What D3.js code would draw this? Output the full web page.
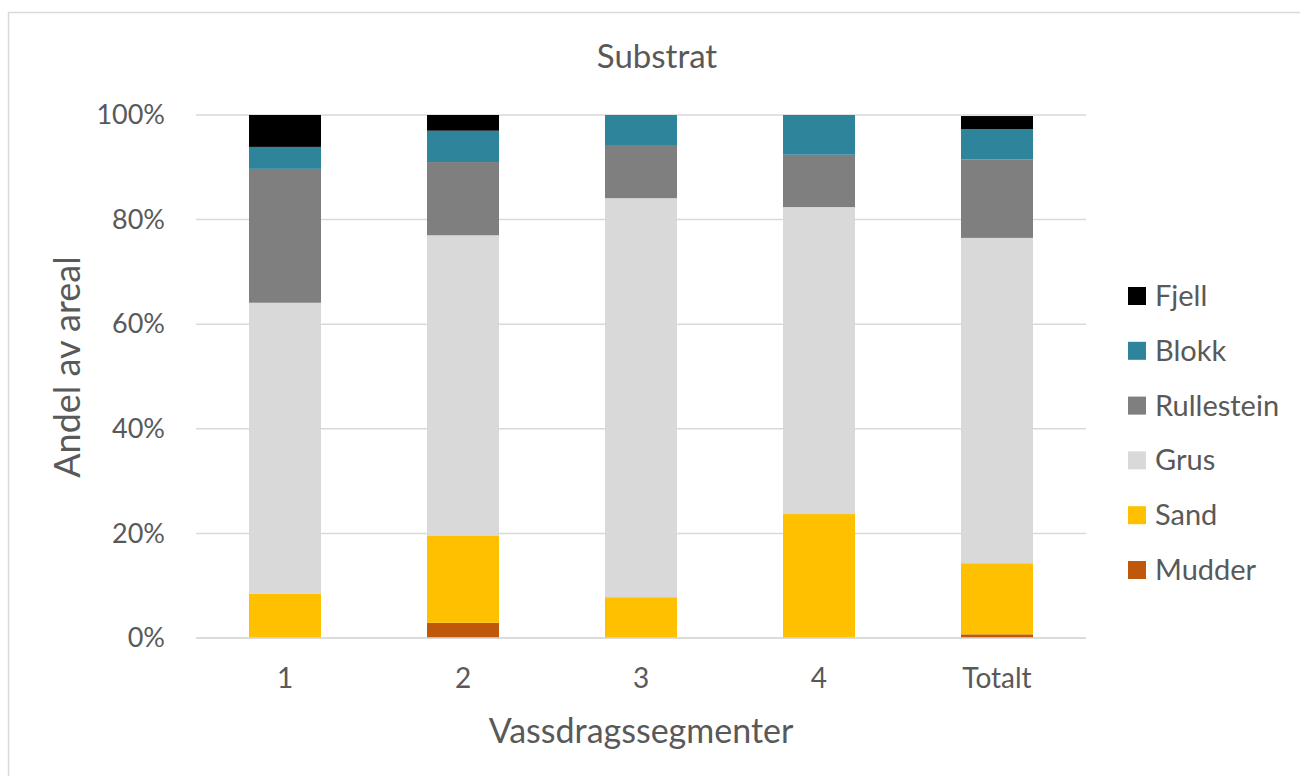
<!DOCTYPE html>
<html>
<head>
<meta charset="utf-8">
<script src="https://cdn.jsdelivr.net/npm/d3@7/dist/d3.min.js"></script>
<style>
  html, body { margin: 0; padding: 0; background: #fff; }
  svg text { font-family: Lato, "Open Sans", sans-serif; }
</style>
</head>
<body>
<svg id="chart" width="1300" height="776"></svg>
<script>
// ---- data ----
const categories = ["1", "2", "3", "4", "Totalt"];
const seriesNames = ["Mudder", "Sand", "Grus", "Rullestein", "Blokk", "Fjell"];
const mudder     = [0.0, 2.9, 0.0, 0.0, 0.7];
const sand       = [8.5, 16.6, 7.8, 23.7, 13.6];
const grus       = [55.6, 57.5, 76.3, 58.7, 62.2];
const rullestein = [25.6, 14.0, 10.0, 10.0, 15.0];
const blokk      = [4.2, 6.0, 5.9, 7.6, 5.8];
const fjell      = [6.1, 3.0, 0.0, 0.0, 2.5];
const yTicks = [0, 20, 40, 60, 80, 100];
const colors = ["#C0580C", "#FFC000", "#D9D9D9", "#7F7F7F", "#2E849B", "#000000"];
const legendOrder = ["Fjell", "Blokk", "Rullestein", "Grus", "Sand", "Mudder"];

const valuesBySeries = { Mudder: mudder, Sand: sand, Grus: grus, Rullestein: rullestein, Blokk: blokk, Fjell: fjell };
const table = categories.map((c, i) => {
  const row = { cat: c };
  seriesNames.forEach(s => row[s] = valuesBySeries[s][i]);
  return row;
});

const svg = d3.select("#chart");
const plot = { left: 196, right: 1086, top: 115, bottom: 638 };

// chart border
svg.append("rect")
  .attr("x", 8.5).attr("y", 12.5)
  .attr("width", 1300).attr("height", 780)
  .attr("fill", "#fff").attr("stroke", "#D9D9D9").attr("stroke-width", 1.5);

const x = d3.scaleBand().domain(categories).range([plot.left, plot.right])
  .paddingInner(0.5955).paddingOuter(0.2978);
const y = d3.scaleLinear().domain([0, 100]).range([plot.bottom, plot.top]);
const color = d3.scaleOrdinal().domain(seriesNames).range(colors);

// gridlines
svg.append("g").selectAll("line").data(yTicks).join("line")
  .attr("x1", plot.left).attr("x2", plot.right)
  .attr("y1", d => y(d)).attr("y2", d => y(d))
  .attr("stroke", "#D9D9D9").attr("stroke-width", 1.5);

// stacked bars
const stack = d3.stack().keys(seriesNames)(table);
svg.append("g").selectAll("g").data(stack).join("g")
  .attr("fill", d => color(d.key))
  .selectAll("rect").data(d => d).join("rect")
  .attr("x", d => x(d.data.cat))
  .attr("width", x.bandwidth())
  .attr("y", d => y(d[1]))
  .attr("height", d => Math.max(0, y(d[0]) - y(d[1])));

// baseline
svg.append("line")
  .attr("x1", plot.left).attr("x2", plot.right)
  .attr("y1", y(0)).attr("y2", y(0))
  .attr("stroke", "#D9D9D9").attr("stroke-width", 1.5);

// y axis labels
const yAxis = d3.axisLeft(y).tickValues(yTicks).tickFormat(d => d + "%").tickSize(0).tickPadding(31);
const gy = svg.append("g").attr("transform", `translate(${plot.left},0)`).call(yAxis);
gy.select(".domain").remove();
gy.selectAll("text").attr("fill", "#595959").style("font-size", "27px")
  .style("font-family", "Lato, sans-serif");

// x axis labels
const xAxis = d3.axisBottom(x).tickSize(0).tickPadding(30);
const gx = svg.append("g").attr("transform", `translate(0,${plot.bottom})`).call(xAxis);
gx.select(".domain").remove();
gx.selectAll("text").attr("fill", "#595959").style("font-size", "28px")
  .style("font-family", "Lato, sans-serif");

// title
svg.append("text").attr("x", 657).attr("y", 68).attr("text-anchor", "middle")
  .attr("fill", "#595959").style("font-size", "33px").text("Substrat");

// axis titles
svg.append("text").attr("x", 641).attr("y", 743).attr("text-anchor", "middle")
  .attr("fill", "#595959").style("font-size", "34px").text("Vassdragssegmenter");
svg.append("text")
  .attr("transform", "translate(80,367) rotate(-90)")
  .attr("text-anchor", "middle")
  .attr("fill", "#595959").style("font-size", "36px").text("Andel av areal");

// legend
const lg = svg.append("g").selectAll("g").data(legendOrder).join("g")
  .attr("transform", (d, i) => `translate(1128, ${296 + i * 54.8})`);
lg.append("rect").attr("x", 0).attr("y", -9).attr("width", 18).attr("height", 18)
  .attr("fill", d => color(d));
lg.append("text").attr("x", 27).attr("y", 10).attr("fill", "#595959")
  .style("font-size", "29px").text(d => d);
</script>
</body>
</html>
